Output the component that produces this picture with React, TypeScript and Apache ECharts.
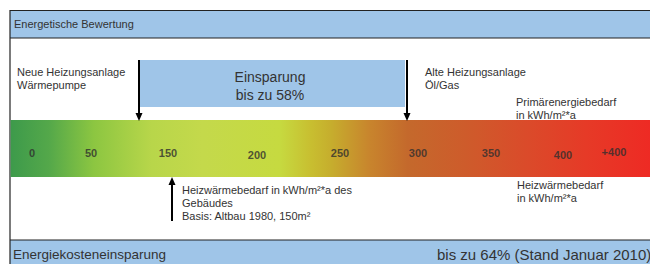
import React, { useEffect, useRef } from "react";
import * as echarts from "echarts";

const scaleLabels = ["0", "50", "150", "200", "250", "300", "350", "400", "+400"];
const scalePositions = [32, 91, 168, 257, 340, 418, 491, 563, 614];
const scaleLabelRows = [153, 153, 153, 155, 153, 153, 153, 155, 152];

const headerTitle = "Energetische Bewertung";
const footerTitle = "Energiekosteneinsparung";
const footerValue = "bis zu 64% (Stand Januar 2010)";
const savingText = ["Einsparung", "bis zu 58%"];
const newSystem = ["Neue Heizungsanlage", "Wärmepumpe"];
const oldSystem = ["Alte Heizungsanlage", "Öl/Gas"];
const primaryLabel = ["Primärenergiebedarf", "in kWh/m²*a"];
const heatLabel = ["Heizwärmebedarf", "in kWh/m²*a"];
const buildingNote = ["Heizwärmebedarf in kWh/m²*a des", "Gebäudes", "Basis: Altbau 1980, 150m²"];

const FONT = "'Liberation Sans', Arial, Helvetica, sans-serif";
const TXT = "#333333";
const BLUE = "#9fc5e8";

function lines(arr: string[], x: number, y0: number, lh: number, size = 11, extra: any = {}) {
  return arr.map((t, i) => ({
    type: "text",
    x,
    y: y0 + i * lh,
    style: { text: t, font: `${size}px ${FONT}`, fill: TXT, verticalAlign: "middle", align: "left", ...extra },
    silent: true,
  }));
}

function arrowDown(x: number, y1: number, y2: number) {
  return [
    { type: "line", shape: { x1: x, y1, x2: x, y2: y2 - 7 }, style: { stroke: "#000", lineWidth: 2 } },
    { type: "polygon", shape: { points: [[x - 3.5, y2 - 8], [x + 3.5, y2 - 8], [x, y2]] }, style: { fill: "#000" } },
  ];
}
function arrowUp(x: number, y1: number, y2: number) {
  return [
    { type: "line", shape: { x1: x, y1: y1 + 7, x2: x, y2 }, style: { stroke: "#000", lineWidth: 2 } },
    { type: "polygon", shape: { points: [[x - 3.5, y1 + 8], [x + 3.5, y1 + 8], [x, y1]] }, style: { fill: "#000" } },
  ];
}

export default function App() {
  const ref = useRef<HTMLDivElement>(null);
  useEffect(() => {
    document.body.style.margin = "0";
    const chart = echarts.init(ref.current!, null, { renderer: "svg" });
    const gradient = new echarts.graphic.LinearGradient(0, 0, 1, 0, [
      { offset: 0, color: "#3d9a4b" },
      { offset: 0.06, color: "#54a84a" },
      { offset: 0.13, color: "#8cc641" },
      { offset: 0.22, color: "#b8d64a" },
      { offset: 0.3, color: "#c4d94b" },
      { offset: 0.42, color: "#c6da40" },
      { offset: 0.47, color: "#c8be30" },
      { offset: 0.5, color: "#c6ae2d" },
      { offset: 0.56, color: "#c8852d" },
      { offset: 0.62, color: "#c4692c" },
      { offset: 0.72, color: "#cf5a2b" },
      { offset: 0.81, color: "#db4a2a" },
      { offset: 0.9, color: "#e63a27" },
      { offset: 1, color: "#ee2a24" },
    ]);
    const graphic: any[] = [
      { type: "rect", shape: { x: 10, y: 10, width: 640, height: 28 }, style: { fill: BLUE } },
      { type: "line", shape: { x1: 10, y1: 10.5, x2: 650, y2: 10.5 }, style: { stroke: "#222", lineWidth: 1.2 } },
      { type: "line", shape: { x1: 10, y1: 38, x2: 650, y2: 38 }, style: { stroke: "#222", lineWidth: 1.2 } },
      { type: "rect", shape: { x: 10, y: 240, width: 640, height: 30 }, style: { fill: BLUE } },
      { type: "line", shape: { x1: 10, y1: 240, x2: 650, y2: 240 }, style: { stroke: "#222", lineWidth: 1.2 } },
      { type: "line", shape: { x1: 10, y1: 10, x2: 10, y2: 264 }, style: { stroke: "#222", lineWidth: 1.2 } },
      { type: "rect", shape: { x: 10.6, y: 120, width: 640, height: 57 }, style: { fill: gradient } },
      { type: "rect", shape: { x: 140, y: 60, width: 265, height: 47 }, style: { fill: BLUE } },
      ...arrowDown(139, 60, 121),
      ...arrowDown(407, 60, 121),
      ...arrowUp(172, 177, 221),
      {
        type: "text", x: 14, y: 24,
        style: { text: headerTitle, font: `11px ${FONT}`, fill: TXT, verticalAlign: "middle" },
      },
      {
        type: "text", x: 13, y: 254,
        style: { text: footerTitle, font: `13.5px ${FONT}`, fill: TXT, verticalAlign: "middle" },
      },
      {
        type: "text", x: 437, y: 254,
        style: { text: footerValue, font: `15px ${FONT}`, fill: TXT, verticalAlign: "middle" },
      },
      ...savingText.map((t, i) => ({
        type: "text", x: 270, y: 77 + i * 18,
        style: { text: t, font: `14px ${FONT}`, fill: TXT, verticalAlign: "middle", align: "center" },
      })),
      ...lines(newSystem, 17, 72, 13),
      ...lines(oldSystem, 425, 72, 13),
      ...lines(primaryLabel, 516, 102, 13),
      ...lines(heatLabel, 517, 185, 13),
      ...lines(buildingNote, 182, 190, 13),
    ];
    chart.setOption({
      animation: false,
      grid: { left: 0, top: 0, width: 650, height: 264 },
      xAxis: { type: "value", min: 0, max: 650, show: false },
      yAxis: { type: "value", min: 0, max: 264, inverse: true, show: false },
      graphic,
      series: [
        {
          type: "scatter",
          symbolSize: 0,
          z: 10,
          data: scaleLabels.map((l, i) => ({ name: l, value: [scalePositions[i], scaleLabelRows[i]] })),
          label: {
            show: true,
            position: "inside",
            formatter: (p: any) => p.name,
            fontFamily: FONT,
            fontWeight: "bold",
            fontSize: 11,
            color: "#2e2e2e",
          },
          silent: true,
        },
      ],
    });
    return () => chart.dispose();
  }, []);
  return <div ref={ref} style={{ width: 650, height: 264, position: "absolute", left: 0, top: 0 }} />;
}
